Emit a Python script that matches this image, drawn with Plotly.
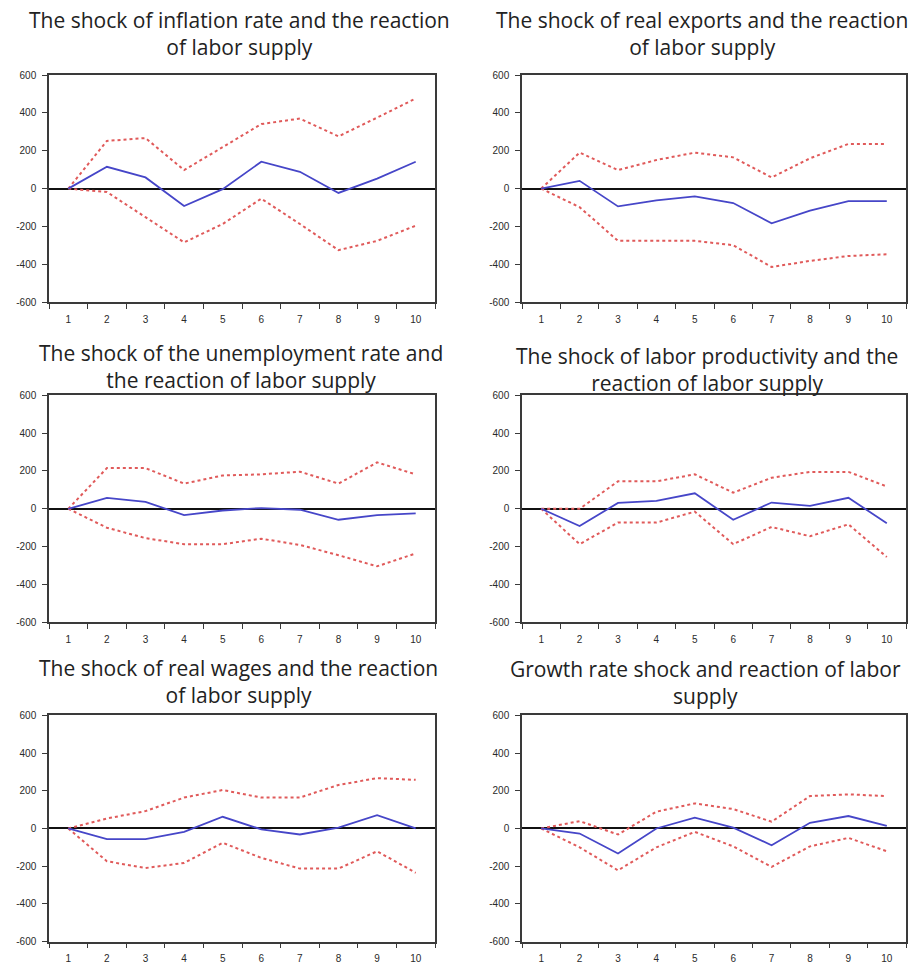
import plotly.graph_objects as go

periods = [1, 2, 3, 4, 5, 6, 7, 8, 9, 10]
y_tick_vals = [600, 400, 200, 0, -200, -400, -600]
y_tick_text = ["600", "400", "200", "0", "-200", "-400", "-600"]

inflation_resp = [0, 115, 59, -92, -3, 142, 89, -23, 53, 142]
inflation_upper = [0, 252, 267, 98, 219, 341, 370, 276, 375, 476]
inflation_lower = [0, -18, -151, -284, -187, -53, -187, -325, -276, -196]

exports_resp = [0, 41, -94, -62, -41, -76, -183, -116, -66, -66]
exports_upper = [0, 190, 98, 151, 190, 165, 59, 160, 236, 236]
exports_lower = [0, -98, -276, -276, -276, -299, -414, -382, -356, -347]

unemp_resp = [0, 58, 36, -33, -9, 4, -5, -58, -33, -24]
unemp_upper = [0, 215, 215, 133, 176, 182, 196, 133, 245, 182]
unemp_lower = [0, -100, -155, -187, -187, -158, -191, -245, -304, -236]

prod_resp = [0, -91, 31, 42, 82, -58, 33, 15, 58, -76]
prod_upper = [0, 0, 145, 145, 182, 85, 164, 195, 195, 118]
prod_lower = [0, -187, -73, -73, -15, -187, -96, -145, -82, -255]

wages_resp = [0, -57, -57, -18, 62, -5, -32, 5, 71, 0]
wages_upper = [0, 53, 92, 164, 204, 164, 164, 231, 267, 258]
wages_lower = [0, -174, -210, -183, -76, -156, -213, -213, -121, -235]

growth_resp = [0, -27, -133, 0, 57, 4, -89, 30, 66, 14]
growth_upper = [0, 39, -32, 89, 133, 103, 36, 172, 181, 172]
growth_lower = [0, -100, -222, -100, -18, -95, -204, -95, -50, -121]

titles = [
    "The shock of inflation rate and the reaction<br>of labor supply",
    "The shock of real exports and the reaction<br>of labor supply",
    "The shock of the unemployment rate and<br>the reaction of labor supply",
    "The shock of labor productivity and the<br>reaction of labor supply",
    "The shock of real wages and the reaction<br>of labor supply",
    "Growth rate shock and reaction of labor<br>supply",
]

panels = [
    (inflation_resp, inflation_upper, inflation_lower),
    (exports_resp, exports_upper, exports_lower),
    (unemp_resp, unemp_upper, unemp_lower),
    (prod_resp, prod_upper, prod_lower),
    (wages_resp, wages_upper, wages_lower),
    (growth_resp, growth_upper, growth_lower),
]

W, H = 909, 965
# vertical correction measured between requested and photographed positions
Y_SCALE, Y_SHIFT = 0.987, 6.0


def fy(py):
    return (py - Y_SHIFT) / Y_SCALE


# plot frames in target pixels (left, right) and (top, bottom)
col_x = [(49, 435), (522, 906)]
row_y = [(75, 302), (395, 622), (715, 941)]
# title block centres (x, y) in target pixels
title_pos = [
    (240, 33), (702, 33),
    (241, 366), (707, 369),
    (238, 681), (705, 682),
]

fig = go.Figure()
layout = {}
annotations = []
for i, (resp, up, lo) in enumerate(panels):
    r, c = divmod(i, 2)
    n = "" if i == 0 else str(i + 1)
    xa, ya = "x" + n, "y" + n
    for series, color, dash, width in [(up, "#e05a5a", "dot", 2), (lo, "#e05a5a", "dot", 2),
                                       (resp, "#4646c8", "solid", 1.8)]:
        fig.add_trace(go.Scatter(x=periods, y=series, mode="lines", xaxis=xa, yaxis=ya,
                                 line=dict(color=color, dash=dash, width=width),
                                 showlegend=False, hoverinfo="skip"))
    x0, x1 = col_x[c]
    t0, b0 = fy(row_y[r][0]), fy(row_y[r][1])
    layout["xaxis" + n] = dict(
        domain=[x0 / W, x1 / W], anchor=ya, range=[0.5, 10.5],
        tickmode="array", tickvals=periods, ticks="", showgrid=False, zeroline=False,
        showline=True, linecolor="#3a3a3a", linewidth=1.5, mirror=True,
        tickfont=dict(family="Arial", size=10, color="#2a2a2a"),
        ticklabelstandoff=7,
        minor=dict(tick0=0.5, dtick=1, ticks="outside", ticklen=5, tickcolor="#3a3a3a",
                   tickwidth=1.2, showgrid=False),
        fixedrange=True,
    )
    layout["yaxis" + n] = dict(
        domain=[max(1 - b0 / H, 0.0), min(1 - t0 / H, 1.0)], anchor=xa, range=[-600, 600],
        tickmode="array", tickvals=y_tick_vals, ticktext=y_tick_text,
        ticks="outside", ticklen=5, tickcolor="#3a3a3a", tickwidth=1.2,
        showgrid=False, zeroline=True, zerolinecolor="#111111", zerolinewidth=1.5,
        showline=True, linecolor="#3a3a3a", linewidth=1.5, mirror=True,
        tickfont=dict(family="Arial", size=10, color="#2a2a2a"),
        ticklabelstandoff=4,
        fixedrange=True,
    )
    cx, cy = title_pos[i]
    annotations.append(dict(text=titles[i], x=cx / W, y=1 - fy(cy) / H,
                            xref="paper", yref="paper", align="center",
                            xanchor="center", yanchor="middle", showarrow=False,
                            font=dict(family="Open Sans", size=21, color="#222222")))

fig.update_layout(width=W, height=H, margin=dict(l=0, r=0, t=0, b=0),
                  paper_bgcolor="white", plot_bgcolor="white",
                  annotations=annotations, **layout)

pin_to_corner = (
    "document.body.style.margin='0';"
    "document.body.style.overflow='hidden';"
    "var d=document.getElementById('{plot_id}');"
    "d.style.position='fixed';d.style.left='0px';d.style.top='0px';"
)
fig.write_html("out.html", post_script=pin_to_corner, config={"displayModeBar": False})
